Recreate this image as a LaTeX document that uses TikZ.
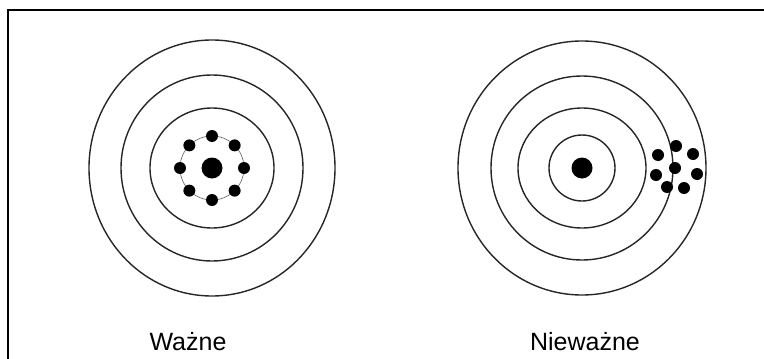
\documentclass[tikz,border=0pt]{standalone}
\usepackage{fontspec}
\setmainfont{Liberation Sans}
\usetikzlibrary{calc}

\begin{document}
\begin{tikzpicture}[x=1pt, y=-1pt,
    ring/.style={draw=black!85, line width=1.4pt},
    thinring/.style={draw=black!65, line width=0.6pt},
    bull/.style={circle, fill=black, inner sep=0pt, minimum size=21pt},
    shot/.style={circle, fill=black, inner sep=0pt, minimum size=12pt},
    caption/.style={font=\fontsize{25}{30}\selectfont, anchor=base}
]
\useasboundingbox (0,0) rectangle (764,359);
% frame, open on the right and at the bottom
\draw[line width=2.5pt] (8,359) -- (8,10) -- (764,10);

% left target: shots grouped round the centre
\coordinate (lc) at (212,168);
\foreach \rx/\ry in {123/128, 91/93, 62/60}
  \draw[ring] (lc) ellipse [x radius=\rx, y radius=\ry];
\draw[thinring] (lc) circle [radius=32];
\node[bull] (lbull) at (lc) {};
\foreach \a in {0,45,...,315}
  \node[shot] (lshot\a) at ($(lc)+(\a:32)$) {};

% right target: shots grouped off the centre
\coordinate (rc) at (582,168);
\foreach \rx/\ry in {124/127, 91/92, 64/60, 33/33}
  \draw[ring] (rc) ellipse [x radius=\rx, y radius=\ry];
\node[bull] (rbull) at (rc) {};
\foreach \x/\y [count=\i] in {676/146, 658/155, 693/154, 675/168, 656/175, 697/174, 667/187, 684/188}
  \node[shot] (rshot\i) at (\x,\y) {};

\node[caption] (wazne) at (188,350) {Ważne};
\node[caption] (niewazne) at (585,350) {Nieważne};
\end{tikzpicture}
\end{document}
